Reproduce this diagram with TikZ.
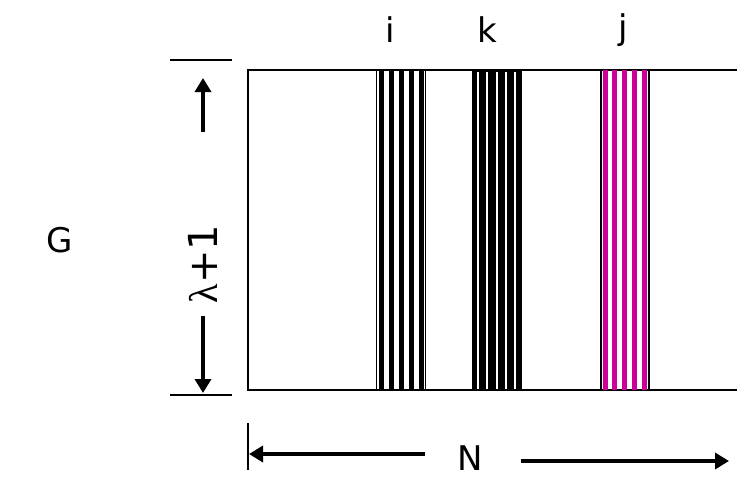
\documentclass[tikz,border=0pt]{standalone}
\usepackage{fontspec}
\setmainfont{DejaVu Sans}
\newfontfamily\lamfont{Liberation Serif}
\usetikzlibrary{arrows.meta}
\definecolor{mag}{RGB}{204,0,153}
\begin{document}
\begin{tikzpicture}[x=1pt,y=-1pt,
  lbl/.style={font=\fontsize{34}{40}\selectfont, inner sep=0pt},
  frame/.style={line width=2.6pt},
  arr/.style={line width=4pt,-{Triangle[length=14pt,width=16pt]}},
  bord/.style={line width=1.8pt}]
\useasboundingbox (0,0) rectangle (737,482);
% frame
\draw[frame] (737,70) -- (248,70) -- (248,390) -- (737,390);
% short ticks
\draw[frame] (170,60) -- (232,60);
\draw[frame] (170,395) -- (232,395);
% column i
\foreach \x in {378.5,388.5,398.5,408.5,418.5} \fill[black] (\x,70) rectangle (\x+5,390);
\draw[bord] (376.5,70) -- (376.5,390) (425.5,70) -- (425.5,390);
% column k
\fill[black] (472,70) rectangle (522,390);
\foreach \x in {477,486,496,505,514} \fill[white] (\x,71.5) rectangle (\x+2,388.5);
% column j
\foreach \x in {603,612,622,632,642} \fill[mag] (\x,70) rectangle (\x+5,390);
\draw[bord] (601,70) -- (601,390) (649,70) -- (649,390);
% labels
\node[lbl] (li) at (390,30) {i};
\node[lbl] (lk) at (487,30) {k};
\node[lbl] (lj) at (623,30) {j};
\node[lbl] (G) at (60,240) {G};
\node[lbl,rotate=90,font=\fontsize{40}{44}\selectfont] (lam) at (203,264) {{\lamfont λ}+1};
\node[lbl] (N) at (470,458) {N};
% vertical arrows
\coordinate (upS) at (203,132);
\coordinate (upE) at (203,78);
\coordinate (dnS) at (203,316);
\coordinate (dnE) at (203,393);
\draw[arr] (upS) -- (upE);
\draw[arr] (dnS) -- (dnE);
% horizontal arrows
\coordinate (lS) at (425,454);
\coordinate (lE) at (249,454);
\coordinate (rS) at (521,461);
\coordinate (rE) at (729,461);
\draw[line width=1.6pt] (248,423) -- (248,470);
\draw[arr] (lS) -- (lE);
\draw[arr] (rS) -- (rE);
\end{tikzpicture}
\end{document}
